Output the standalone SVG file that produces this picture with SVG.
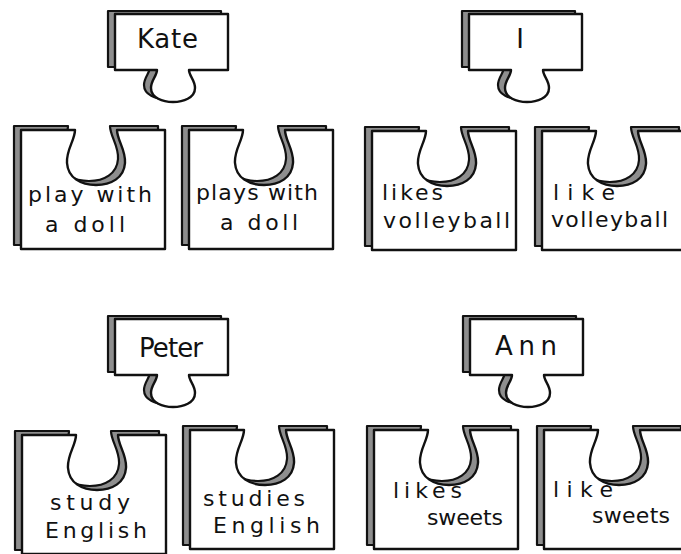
<svg xmlns="http://www.w3.org/2000/svg" xmlns:xlink="http://www.w3.org/1999/xlink" width="681" height="554" viewBox="0 0 681 554">
<style>
.back{fill:#8e8e8e;stroke:#111;stroke-width:2.2;stroke-linejoin:round}
.face{fill:#fff;stroke:#111;stroke-width:2.4;stroke-linejoin:round}
text{font-family:"DejaVu Sans","Liberation Sans",sans-serif;font-size:22px;fill:#111}
.h{font-size:26px}
.c{text-anchor:middle}
</style>
<defs>
<path id="tp" d="M0,0 H113 V56 H74 C74,62 80,66 80,74 C80,84 68,88 58,88 C48,88 36,84 36,74 C36,66 42,62 42,56 H0 Z"/>
<path id="bp" d="M0,0 H54 C54,10 45,20 46,33 C47,48 60,55 75,55 C90,55 103,48 104,33 C105,20 96,10 96,0 H144 V119 H0 Z"/>
</defs>
<rect width="681" height="554" fill="#fff"/>
<g id="connectors"></g>
<g id="kate"><use href="#tp" class="back" x="108" y="11"/><use href="#tp" class="face" x="115" y="14"/><text class="h" x="137" y="48" textLength="61">Kate</text></g>
<g id="i"><use href="#tp" class="back" x="462" y="11"/><use href="#tp" class="face" x="469" y="14"/><text class="h c" x="520" y="48">I</text></g>
<g id="peter"><use href="#tp" class="back" x="108" y="316"/><use href="#tp" class="face" x="115" y="319"/><text class="h" x="139" y="357" textLength="64">Peter</text></g>
<g id="ann"><use href="#tp" class="back" x="463" y="316"/><use href="#tp" class="face" x="470" y="319"/><text class="h" x="495" y="355" textLength="62">Ann</text></g>
<g id="p1"><use href="#bp" class="back" x="14" y="126"/><use href="#bp" class="face" x="21" y="130"/><text x="28" y="202" textLength="124">play with</text><text x="45" y="232" textLength="80">a doll</text></g>
<g id="p2"><use href="#bp" class="back" x="182" y="126"/><use href="#bp" class="face" x="189" y="130"/><text x="196" y="200" textLength="122">plays with</text><text x="220" y="230" textLength="78">a doll</text></g>
<g id="p3"><use href="#bp" class="back" x="365" y="127"/><use href="#bp" class="face" x="372" y="131"/><text x="382" y="200" textLength="61">likes</text><text x="383" y="228" textLength="127">volleyball</text></g>
<g id="p4"><use href="#bp" class="back" x="535" y="127"/><use href="#bp" class="face" x="542" y="131"/><text x="553" y="200" textLength="62">like</text><text x="551" y="227" textLength="117">volleyball</text></g>
<g id="p5"><use href="#bp" class="back" x="15" y="431"/><use href="#bp" class="face" x="22" y="435"/><text x="50" y="510" textLength="80">study</text><text x="45" y="538" textLength="102">English</text></g>
<g id="p6"><use href="#bp" class="back" x="183" y="426"/><use href="#bp" class="face" x="190" y="430"/><text x="203" y="506" textLength="102">studies</text><text x="213" y="533" textLength="107">English</text></g>
<g id="p7"><use href="#bp" class="back" x="367" y="426"/><use href="#bp" class="face" x="374" y="430"/><text x="393" y="498" textLength="69">likes</text><text x="427" y="525" textLength="76">sweets</text></g>
<g id="p8"><use href="#bp" class="back" x="537" y="426"/><use href="#bp" class="face" x="544" y="430"/><text x="553" y="497" textLength="60">like</text><text x="592" y="523" textLength="78">sweets</text></g>
</svg>
